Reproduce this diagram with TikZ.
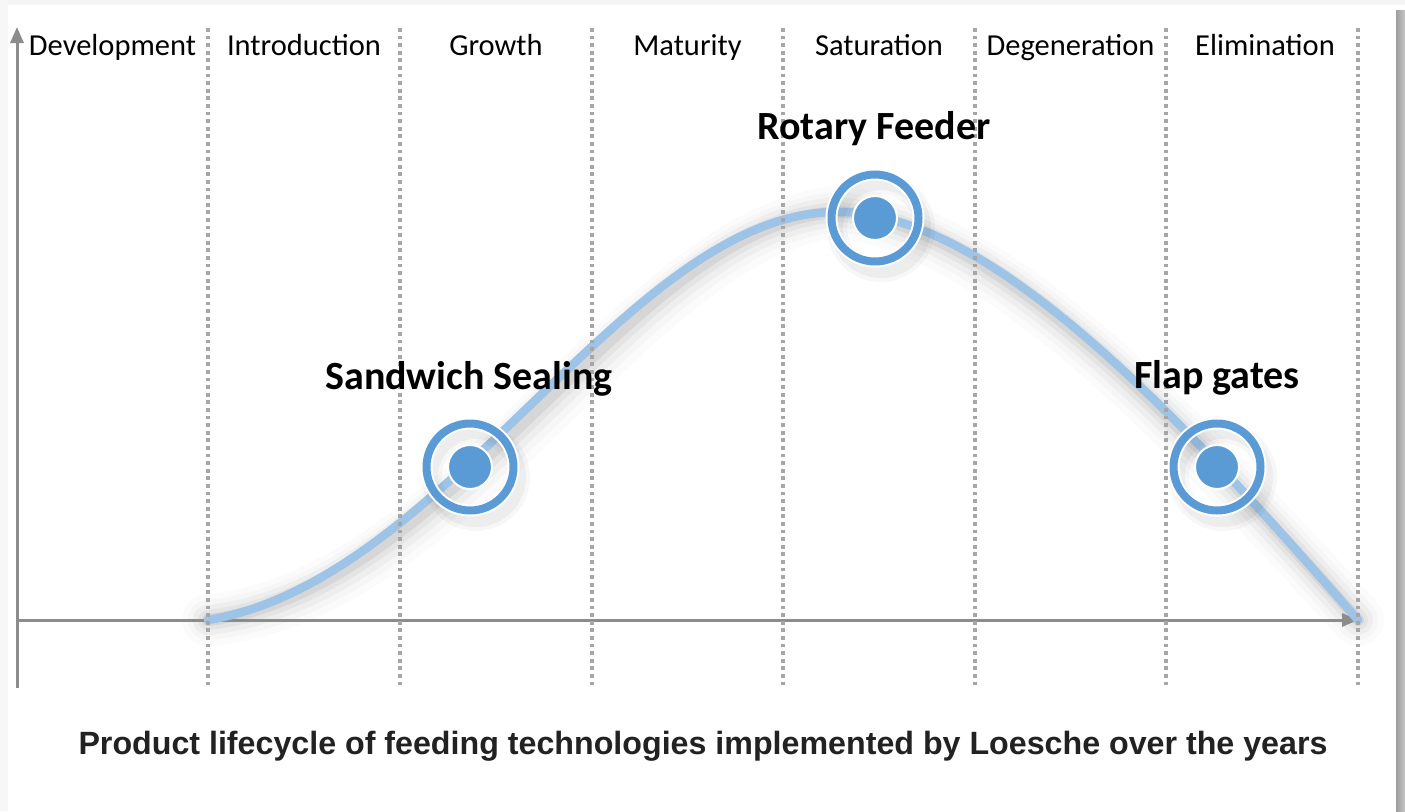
\documentclass[tikz,border=0pt]{standalone}
\usepackage{fontspec}
\setmainfont{Carlito}
\newfontfamily\titlefont{Liberation Sans}
\usetikzlibrary{arrows.meta}
\definecolor{axisgray}{HTML}{8C8C8C}
\definecolor{dotgray}{HTML}{A6A6A6}
\definecolor{curveblue}{HTML}{9DC3E6}
\definecolor{ringblue}{HTML}{5B9BD5}
\definecolor{titlecol}{HTML}{222222}
\tikzset{
  phase/.style={font=\fontsize{30.5}{36}\selectfont, anchor=base, text=black, inner sep=0pt},
  techlabel/.style={font=\fontsize{40}{48}\selectfont\bfseries, anchor=base, text=black, inner sep=0pt},
  divider/.style={draw=dotgray, line width=4pt, dash pattern=on 3.8pt off 3.8pt},
  axisline/.style={draw=axisgray, line width=3pt, -{Triangle[length=16pt,width=13pt]}},
  lifecurve/.style={draw=curveblue, line width=8.5pt, line cap=round},
  shadowcurve/.style={draw=black, line cap=round},
  ring/.style={draw=ringblue, line width=8pt, circle, minimum size=87pt, inner sep=0pt},
  ringedge/.style={draw=white, line width=12pt, circle, minimum size=87pt, inner sep=0pt},
  dot/.style={fill=ringblue, draw=white, line width=2pt, circle, minimum size=44pt, inner sep=0pt}
}
\begin{document}
\begin{tikzpicture}[x=1pt,y=-1pt]
\useasboundingbox (0,0) rectangle (1405,811);
\fill[white] (0,0) rectangle (1405,811);
% card and its shadow
\fill[black!4] (0,0) rectangle (1405,5);
\fill[black!3] (0,0) rectangle (8,811);
\shade[left color=black!38, right color=black!22] (1396,10) rectangle (1405,811);
\fill[white] (8,5) rectangle (1396,811);

% coordinates
\coordinate (o) at (17,620);
\coordinate (ytop) at (17,27);
\coordinate (ybot) at (17,688);
\coordinate (xend) at (1358,620);
\foreach \x/\n in {208/d1,400/d2,592/d3,783/d4,975/d5,1166/d6,1358/d7}{
  \coordinate (\n t) at (\x,28);
  \coordinate (\n b) at (\x,688);
}
\coordinate (c0) at (208,620);
\coordinate (cpk) at (840,212);
\coordinate (cend) at (1358,620);

% shadow of curve
\foreach \w/\o/\dx/\dy in {52/0.015/9/18,40/0.02/8/16,30/0.03/7/14,20/0.04/6/12,12/0.06/5/10}{
  \draw[shadowcurve, line width=\w pt, opacity=\o, shift={(\dx,\dy)}]
    (c0) .. controls (450,580) and (630,208) .. (cpk)
         .. controls (1000,214) and (1200,440) .. (cend);
}

% axes
\draw[axisline] (ybot) -- (ytop);
\draw[axisline] (o) -- (xend);

% curve
\draw[lifecurve] (c0) .. controls (450,580) and (630,208) .. (cpk)
         .. controls (1000,214) and (1200,440) .. (cend);

% dividers (drawn over the curve)
\foreach \n in {d1,d2,d3,d4,d5,d6,d7}{
  \draw[divider] (\n t) -- (\n b);
}

% phase labels
\node[phase] (p1) at (112.5,55) {Development};
\node[phase] (p2) at (304,55) {Introduction};
\node[phase] (p3) at (496,55) {Growth};
\node[phase] (p4) at (687.5,55) {Maturity};
\node[phase] (p5) at (879,55) {Saturation};
\node[phase] (p6) at (1070.5,55) {Degeneration};
\node[phase] (p7) at (1265,55) {Elimination};

% markers
\foreach \n/\x/\y in {sw/470/467, rf/875/218, fg/1217/467}{
  \foreach \w/\o in {20/0.03,12/0.04}{
    \draw[black, opacity=\o, line width=\w pt] (\x+6,\y+10) circle (44pt);
  }
  \node[ringedge] at (\x,\y) {};
  \node[ring] (ring\n) at (\x,\y) {};
  \node[dot] (dot\n) at (\x,\y) {};
}

% tech labels
\node[techlabel] (lsw) at (469,389) {Sandwich Sealing};
\node[techlabel] (lrf) at (874,139) {Rotary Feeder};
\node[techlabel] (lfg) at (1217,388) {Flap gates};

% caption
\node[font=\titlefont\fontsize{32.2}{38}\selectfont\bfseries, text=titlecol, anchor=base, inner sep=0pt] (cap) at (703,754) {Product lifecycle of feeding technologies implemented by Loesche over the years};
\end{tikzpicture}
\end{document}
